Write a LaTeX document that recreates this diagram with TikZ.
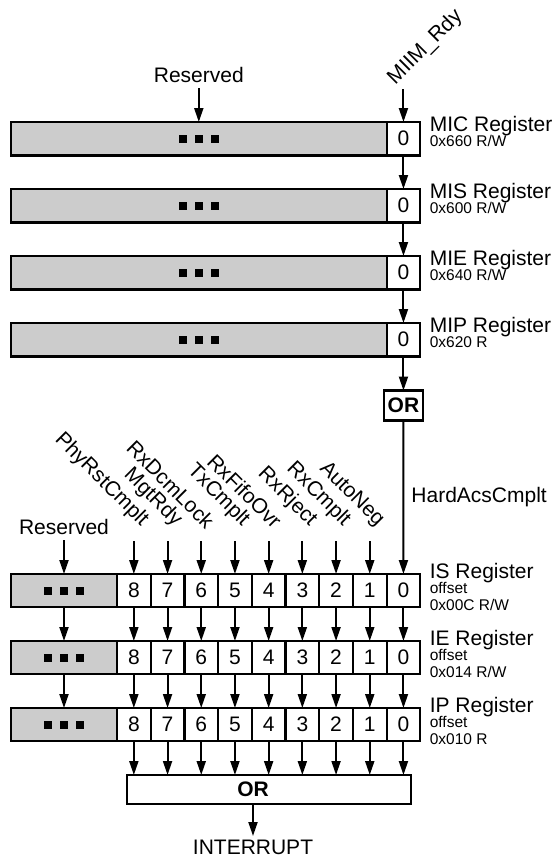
\documentclass[tikz,border=0pt]{standalone}
\usepackage{fontspec}
\setmainfont{Liberation Sans}
\usepackage{xcolor}
\usetikzlibrary{positioning, arrows.meta}

\definecolor{resgray}{RGB}{204,204,204}
\newcommand\sqr{\rule{8pt}{8pt}}
\newcommand\resdots{\sqr\hspace{7.7pt}\sqr\hspace{7.7pt}\sqr}
\newcommand\bigf{\fontsize{21}{24}\selectfont}
\newcommand\smallf{\fontsize{15.5}{17}\selectfont}

\begin{document}
\begin{tikzpicture}[x=1pt, y=-1pt, line width=2.2pt,
    >={Triangle[length=14pt, width=9pt]},
    lbl/.style={inner sep=0pt, outer sep=0pt, font=\bigf},
    addr/.style={inner sep=0pt, outer sep=0pt, font=\smallf},
    resv/.style={draw, fill=resgray, outer sep=0pt, inner sep=0pt, minimum height=33.5pt, anchor=north west},
    bit/.style={draw, fill=white, outer sep=0pt, inner sep=0pt, minimum width=33.7pt, minimum height=33.5pt, anchor=north west, font=\bigf},
    orgate/.style={draw, fill=white, outer sep=0pt, inner sep=0pt, font=\bigf\bfseries},
    sig/.style={->, line width=2pt}]
   \useasboundingbox (0,0) rectangle (556,859);

   % MIIM registers (MIC, MIS, MIE, MIP)
   \foreach \nm/\ad [count=\i] in {MIC/{0x660 R/W}, MIS/{0x600 R/W}, MIE/{0x640 R/W}, MIP/{0x620 R}} {
      \node[resv, minimum width=375.6pt] (m\i) at (11, {122+67*(\i-1)}) {\resdots};
      \node[bit] (mb\i) at (m\i.north east) {0};
      \node[lbl, anchor=base west] (mt\i) at ([shift={(9.5pt,-9pt)}]mb\i.north east) {\nm\ Register};
      \node[addr, anchor=base west] at ([yshift=-15pt]mt\i.base west) {\ad};
   }
   \node[lbl, anchor=base] (rsvA) at ([yshift=40pt]m1.north) {Reserved};
   \coordinate (miim) at ([yshift=33pt]mb1.north);
   \node[lbl, rotate=45, anchor=base west] (miimlbl) at ([shift={(-8pt,4pt)}]miim) {MIIM\_Rdy};
   \node[orgate, minimum width=39pt, minimum height=30pt, below=34pt of mb4] (orA) {OR};

   \draw[sig, shorten <=6pt] (rsvA) -- (m1);
   \draw[sig] (miim) -- (mb1);
   \foreach \i/\j in {1/2, 2/3, 3/4}
      \draw[sig] (mb\i) -- (mb\j);
   \draw[sig] (mb4) -- (orA);

   % interrupt registers (IS, IE, IP)
   \foreach \r/\nm/\ad/\y in {s/IS/{0x00C R/W}/574, e/IE/{0x014 R/W}/641, p/IP/{0x010 R}/708} {
      \node[resv, minimum width=106pt, minimum height=33pt] (g\r) at (11, \y) {\resdots};
      \foreach \b [count=\k from 0] in {8,...,0}
         \node[bit, minimum height=33pt] (\r\b) at ({117+33.7*\k}, \y) {\b};
      \node[lbl, anchor=base west] (t\r) at ([shift={(9.5pt,-4pt)}]\r0.north east) {\nm\ Register};
      \node[addr, anchor=base west] (o\r) at ([yshift=-15.5pt]t\r.base west) {offset};
      \node[addr, anchor=base west] at ([yshift=-16.5pt]o\r.base west) {\ad};
   }
   \draw[sig] (orA) -- node[lbl, right=8pt] {HardAcsCmplt} (s0);

   % status inputs
   \foreach \b/\nm in {8/PhyRstCmplt, 7/MgtRdy, 6/RxDcmLock, 5/TxCmplt, 4/RxFifoOvr, 3/RxRject, 2/RxCmplt, 1/AutoNeg} {
      \coordinate (in\b) at ([yshift=33pt]s\b.north);
      \node[lbl, rotate=-45, anchor=south east] (n\b) at ([shift={(4pt,11pt)}]in\b) {\nm};
      \draw[sig] (in\b) -- (s\b);
   }
   \node[lbl, anchor=base] (rsvB) at ([yshift=40pt]gs.north) {Reserved};
   \draw[sig, shorten <=6pt] (rsvB) -- (gs);

   \foreach \a/\c in {s/e, e/p} {
      \draw[sig] (g\a) -- (g\c);
      \foreach \b in {8,...,0}
         \draw[sig] (\a\b) -- (\c\b);
   }

   % final OR
   \node[orgate, minimum width=284pt, minimum height=29pt, anchor=north west] (orB) at (127, 775) {};
   \node[lbl, font=\bigf\bfseries] (orBt) at ([xshift=-16pt]orB.center) {OR};
   \foreach \b in {8,...,0}
      \draw[sig] (p\b) -- (p\b |- orB.north);
   \path (orBt |- orB.south) ++(0,36) node[lbl, anchor=north] (intr) {INTERRUPT};
   \draw[sig, shorten >=4pt] (orBt |- orB.south) -- (intr);
\end{tikzpicture}
\end{document}
